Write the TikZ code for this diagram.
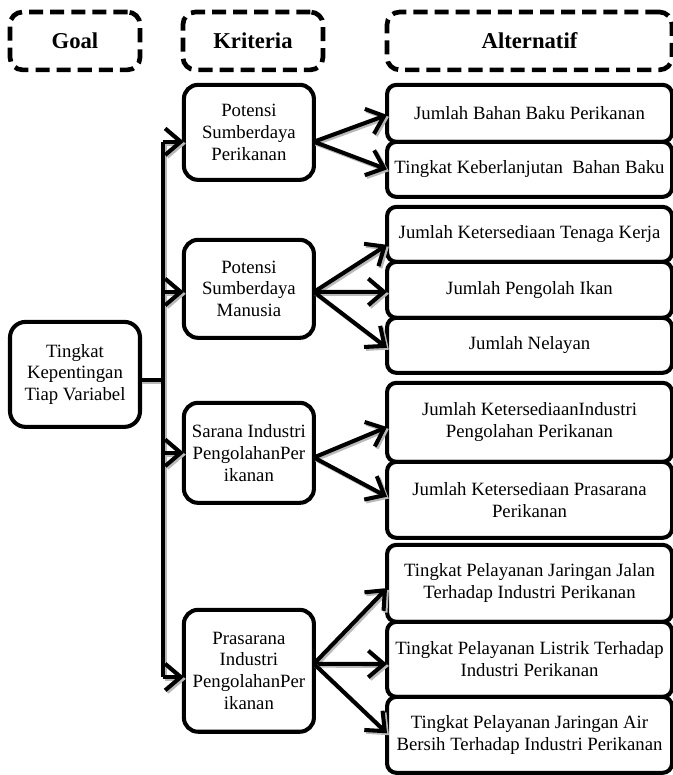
\documentclass[tikz,border=0pt]{standalone}
\usepackage{fontspec}
\setmainfont{Liberation Serif}
\usetikzlibrary{positioning,arrows.meta}
\newcommand{\vshim}{9.6pt}
\newcommand{\sshim}{6.4pt}
\newcommand{\hdr}[1]{{\fontsize{14.5}{16}\selectfont\bfseries #1}}

\begin{document}
\begin{tikzpicture}[
    every node/.style={font=\fontsize{12}{14}\selectfont, align=center
                      ,outer sep=0pt, inner sep=2pt},
    head/.style={draw, line width=3pt, dash pattern=on 9pt off 4.5pt
                ,rounded corners=8pt, minimum height=37pt},
    goalbox/.style={draw, line width=2.6pt, rounded corners=10pt},
    crit/.style={draw, line width=2.6pt, rounded corners=9pt, minimum width=83.2pt},
    alt/.style={draw, line width=2.6pt, rounded corners=6pt, minimum width=182.4pt},
    link/.style={line width=2.6pt
                ,preaction={draw=gray!55, line width=2.6pt
                           ,transform canvas={shift={(1.2pt,-1.2pt)}}}},
    arr/.style={link, -{Straight Barb[length=10pt,width=17pt]}}
  ]
  \useasboundingbox (0,0) rectangle (430.7pt,-496pt);

  %% header row
  \node (g0) [head, minimum width=83.2pt] at (48pt,-26.2pt) {\hdr{Goal}};
  \node (k0) [head, minimum width=89.6pt
             ,right=27.5pt of g0]    {\hdr{Kriteria}};
  \node (a0) [head, minimum width=182.4pt
             ,right=41pt of k0]      {\hdr{Alternatif}};

  %% goal
  \node (g1) [goalbox, minimum width=83.2pt, minimum height=67.2pt
             ,below=161.3pt of g0]   {Tingkat\\Kepentingan\\Tiap Variabel};

  %% kriteria
  \node (k1) [crit, minimum height=60.8pt
             ,below=\vshim of k0
             ,xshift=-2.6pt]         {Potensi\\Sumberdaya\\Perikanan};
  \node (k2) [crit, minimum height=62.7pt
             ,below=38.4pt of k1]    {Potensi\\Sumberdaya\\Manusia};
  \node (k3) [crit, minimum height=64pt
             ,below=41.6pt of k2]    {Sarana Industri\\PengolahanPer\\ikanan};
  \node (k4) [crit, minimum height=78pt
             ,below=68.5pt of k3]    {Prasarana\\Industri\\PengolahanPer\\ikanan};

  %% alternatif
  \node (a1) [alt, minimum height=36.5pt
             ,below=\vshim of a0]    {Jumlah Bahan Baku Perikanan};
  \node (a2) [alt, minimum height=35.2pt
             ,below=0pt of a1]       {Tingkat Keberlanjutan~ Bahan Baku};
  \node (a3) [alt, minimum height=35.2pt
             ,below=\sshim of a2]    {Jumlah Ketersediaan Tenaga Kerja};
  \node (a4) [alt, minimum height=35.8pt
             ,below=0pt of a3]       {Jumlah Pengolah Ikan};
  \node (a5) [alt, minimum height=35.2pt
             ,below=0pt of a4]       {Jumlah Nelayan};
  \node (a6) [alt, minimum height=50.6pt
             ,below=\sshim of a5]    {Jumlah KetersediaanIndustri\\Pengolahan Perikanan};
  \node (a7) [alt, minimum height=48.6pt
             ,below=0pt of a6]       {Jumlah Ketersediaan Prasarana\\Perikanan};
  \node (a8) [alt, minimum height=49.3pt
             ,below=4.5pt of a7]     {Tingkat Pelayanan Jaringan Jalan\\Terhadap Industri Perikanan};
  \node (a9) [alt, minimum height=48pt
             ,below=0pt of a8]       {Tingkat Pelayanan Listrik Terhadap\\Industri Perikanan};
  \node (a10) [alt, minimum height=48.6pt
              ,below=0pt of a9]      {Tingkat Pelayanan Jaringan Air\\Bersih Terhadap Industri Perikanan};

  %% goal -> kriteria
  \coordinate (t) at ([xshift=14.7pt,yshift=-3.5pt]g1.east);
  \coordinate (k1in) at ([yshift=-6pt]k1.west);
  \coordinate (k2in) at ([yshift=-2pt]k2.west);
  \coordinate (k3in) at (k3.west);
  \coordinate (k4in) at ([yshift=-4pt]k4.west);
  \draw[link] ([yshift=-3.5pt]g1.east) -- (t);
  \draw[link] (t |- k1in) -- (t |- k4in);
  \draw[arr] (t |- k1in) -- (k1in);
  \draw[arr] (t |- k2in) -- (k2in);
  \draw[arr] (t |- k3in) -- (k3in);
  \draw[arr] (t |- k4in) -- (k4in);

  %% kriteria -> alternatif
  \draw[arr] ([yshift=-6pt]k1.east) -- ([yshift=-1pt]a1.west);
  \draw[arr] ([yshift=-6pt]k1.east) -- (a2.west);
  \draw[arr] ([yshift=-2pt]k2.east) -- ([yshift=-6.7pt]a3.west);
  \draw[arr] ([yshift=-2pt]k2.east) -- ([yshift=-1.3pt]a4.west);
  \draw[arr] ([yshift=-2pt]k2.east) -- ([yshift=-1.6pt]a5.west);
  \draw[arr] ([yshift=-3pt]k3.east) -- ([yshift=-3pt]a6.west);
  \draw[arr] ([yshift=-3pt]k3.east) -- ([yshift=2pt]a7.west);
  \draw[arr] ([yshift=4.5pt]k4.east) -- ([yshift=-3pt]a8.west);
  \draw[arr] ([yshift=4.5pt]k4.east) -- ([yshift=-3pt]a9.west);
  \draw[arr] ([yshift=4.5pt]k4.east) -- ([yshift=1pt]a10.west);
\end{tikzpicture}
\end{document}
